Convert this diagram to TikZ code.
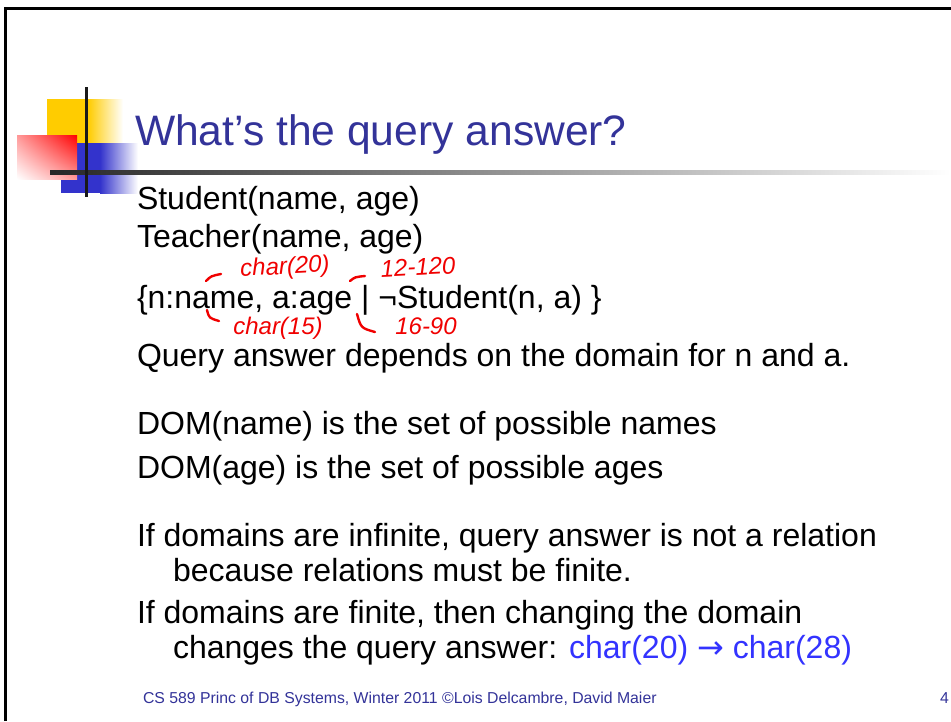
\documentclass[tikz,border=0pt]{standalone}
\usepackage{fontspec}
\setmainfont{Liberation Sans}
\newfontfamily\symfont{DejaVu Sans}
\usetikzlibrary{shadings}
\definecolor{titleblue}{RGB}{51,51,153}
\definecolor{brightblue}{RGB}{51,51,255}
\definecolor{logoyellow}{RGB}{255,204,0}
\definecolor{logoblue}{RGB}{51,51,204}
\definecolor{inkred}{RGB}{240,0,0}
\tikzset{
  txt/.style={anchor=base west, inner sep=0pt, outer sep=0pt},
  bodytxt/.style={txt, font=\fontsize{32}{38}\selectfont},
  titlestyle/.style={txt, font=\fontsize{42.6}{50}\selectfont, text=titleblue},
  note/.style={inner sep=0pt, text=inkred, font=\fontsize{24}{28}\selectfont\itshape},
  inkstroke/.style={draw=inkred, line width=2.4pt, line cap=round},
  footer/.style={txt, text=titleblue, font=\fontsize{15.8}{19}\selectfont},
}
\begin{document}
\begin{tikzpicture}[x=1pt,y=-1pt]
\useasboundingbox (0,0) rectangle (951,721);
\fill[white] (0,0) rectangle (951,721);
% frame
\draw[line width=3pt] (5,721) -- (5,8.5) -- (951,8.5);
% logo
\fill[logoyellow] (47,99) rectangle (88,143);
\shade[left color=logoyellow, right color=white] (88,99) rectangle (123,143);
\fill[logoblue] (61,143) rectangle (100,193);
\shade[left color=logoblue, right color=white] (100,143) rectangle (138,193);
\shade[upper right=red, lower left=white, upper left=red!40, lower right=red!40] (17,135) rectangle (77,179);
\shade[left color=black!85, right color=white] (50,170.5) rectangle (951,174);
\fill[black!90] (84.5,87) rectangle (88,197);
% title
\node[titlestyle] (title) at (135,145.5) {What’s the query answer?};
% body
\node[bodytxt] (l1) at (137,209) {Student(name, age)};
\node[bodytxt] (l2) at (137,247) {Teacher(name, age)};
\node[bodytxt] (l3) at (137,308) {\{n:name, a:age | ¬Student(n, a) \}};
\node[bodytxt] (l4) at (137,366) {Query answer depends on the domain for n and a.};
\node[bodytxt] (l5) at (137,434) {DOM(name) is the set of possible names};
\node[bodytxt] (l6) at (137,478) {DOM(age) is the set of possible ages};
\node[bodytxt] (l7) at (137,546) {If domains are infinite, query answer is not a relation};
\node[bodytxt] (l8) at (173,581) {because relations must be finite.};
\node[bodytxt] (l9) at (137,623) {If domains are finite, then changing the domain};
\node[bodytxt] (l10) at (173,658) {changes the query answer: \textcolor{brightblue}{char(20) {\symfont →} char(28)}};
% annotations
\node[note, rotate=3] (n1) at (285,268) {char(20)};
\node[note, rotate=3] (n2) at (418,267) {12-120};
\node[note] (n3) at (278,328) {char(15)};
\node[note] (n4) at (426,326) {16-90};
\draw[inkstroke] (206,281) .. controls (211,276) .. (221,274);
\draw[inkstroke] (350,281) .. controls (355,277) .. (365,276);
\draw[inkstroke] (207,310) .. controls (209,318) .. (219,321);
\draw[inkstroke] (357,314) .. controls (361,328) .. (375,332);
% footer
\node[footer] (foot) at (143,703) {CS 589 Princ of DB Systems, Winter 2011 ©Lois Delcambre, David Maier};
\node[footer] (page) at (940,703) {4};
\end{tikzpicture}
\end{document}
